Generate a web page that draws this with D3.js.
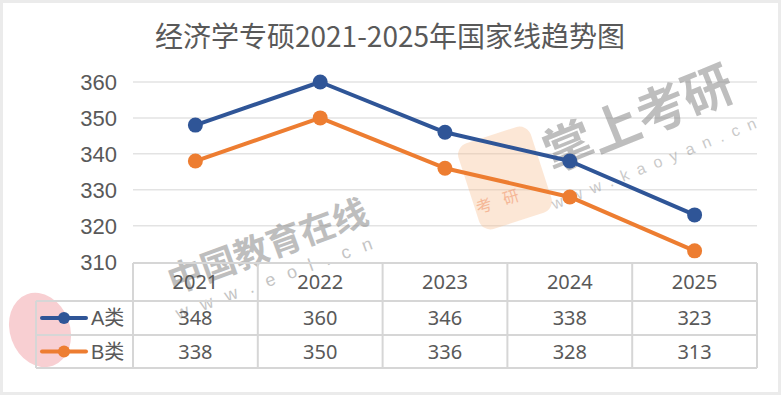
<!DOCTYPE html>
<html>
<head>
<meta charset="utf-8">
<script src="https://cdn.jsdelivr.net/npm/d3@7"></script>
<style>
  body { margin: 0; background: #fff; }
  svg { display: block; }
</style>
</head>
<body>
<div id="chart"></div>
<script>
var width = 781, height = 395;

// data
const years = ["2021", "2022", "2023", "2024", "2025"];
const seriesNames = ["A类", "B类"];
const scoresA = [348, 360, 346, 338, 323];
const scoresB = [338, 350, 336, 328, 313];
const yTicks = [310, 320, 330, 340, 350, 360];
const colors = ["#2f5597", "#ed7d31"];

const series = [
  { name: seriesNames[0], values: scoresA, color: colors[0] },
  { name: seriesNames[1], values: scoresB, color: colors[1] }
];

const svg = d3.select("#chart").append("svg")
    .attr("width", width)
    .attr("height", height);

// outer frame
svg.append("rect")
    .attr("x", 1.5).attr("y", 1.5)
    .attr("width", width - 3).attr("height", height - 3)
    .attr("fill", "#fff")
    .attr("stroke", "#ebebeb")
    .attr("stroke-width", 3);

// title
svg.append("text")
    .attr("x", 390).attr("y", 47)
    .attr("text-anchor", "middle")
    .attr("font-family", "'Noto Sans CJK SC', sans-serif")
    .attr("font-size", 28)
    .attr("fill", "#595959")
    .text("经济学专硕2021-2025年国家线趋势图");

const x = d3.scaleBand().domain(years).range([133, 757]);
const y = d3.scaleLinear().domain([310, 360]).range([261.6, 82]);
const cx = d => x(d) + x.bandwidth() / 2;

// gridlines
svg.append("g").selectAll("line")
    .data(yTicks.filter(t => t > 310))
    .join("line")
    .attr("x1", 133).attr("x2", 757)
    .attr("y1", d => y(d)).attr("y2", d => y(d))
    .attr("stroke", "#e3e3e3")
    .attr("stroke-width", 1.5);

// y axis labels
svg.append("g").selectAll("text")
    .data(yTicks)
    .join("text")
    .attr("x", 117)
    .attr("y", d => y(d) + 8)
    .attr("text-anchor", "end")
    .attr("font-family", "'Liberation Sans', Arial, sans-serif")
    .attr("font-size", 22)
    .attr("fill", "#595959")
    .text(d => d);

// watermarks (faint)
const wm = svg.append("g").attr("pointer-events", "none");
wm.append("rect")
    .attr("x", -38).attr("y", -45).attr("width", 76).attr("height", 90)
    .attr("rx", 12)
    .attr("transform", "translate(505,178) rotate(-18)")
    .attr("fill", "#f6b98a").attr("opacity", 0.35);
wm.append("text")
    .attr("transform", "translate(505,205) rotate(-18)")
    .attr("text-anchor", "middle")
    .attr("font-family", "'Noto Sans CJK SC', sans-serif")
    .attr("font-size", 16).attr("letter-spacing", 12)
    .attr("fill", "#f08a5a").attr("opacity", 0.5)
    .text("考研");
wm.append("ellipse")
    .attr("cx", 40).attr("cy", 330).attr("rx", 30).attr("ry", 38)
    .attr("transform", "rotate(-20,40,330)")
    .attr("fill", "#e8606a").attr("opacity", 0.3);
wm.append("text")
    .attr("transform", "translate(272,258) rotate(-20)")
    .attr("text-anchor", "middle")
    .attr("font-family", "'Noto Sans CJK SC', sans-serif")
    .attr("font-weight", "bold")
    .attr("font-size", 35)
    .attr("fill", "#8a8a8a").attr("opacity", 0.55)
    .text("中国教育在线");
wm.append("text")
    .attr("transform", "translate(282,282) rotate(-20)")
    .attr("text-anchor", "middle")
    .attr("font-family", "'Liberation Sans', Arial, sans-serif")
    .attr("font-size", 18).attr("letter-spacing", 13)
    .attr("fill", "#8a8a8a").attr("opacity", 0.5)
    .text("www.eol.cn");
wm.append("text")
    .attr("transform", "translate(645,135) rotate(-22)")
    .attr("text-anchor", "middle")
    .attr("font-family", "'Noto Sans CJK SC', sans-serif")
    .attr("font-weight", "bold")
    .attr("font-size", 50)
    .attr("fill", "#8a8a8a").attr("opacity", 0.55)
    .text("掌上考研");
wm.append("text")
    .attr("transform", "translate(660,167) rotate(-22)")
    .attr("text-anchor", "middle")
    .attr("font-family", "'Liberation Sans', Arial, sans-serif")
    .attr("font-size", 16).attr("letter-spacing", 9)
    .attr("fill", "#8a8a8a").attr("opacity", 0.45)
    .text("www.kaoyan.cn");

// lines + markers
const line = d3.line()
    .x((d, i) => cx(years[i]))
    .y(d => y(d));

const sg = svg.append("g").selectAll("g")
    .data(series)
    .join("g");

sg.append("path")
    .attr("d", d => line(d.values))
    .attr("fill", "none")
    .attr("stroke", d => d.color)
    .attr("stroke-width", 4)
    .attr("stroke-linejoin", "round");

sg.selectAll("circle")
    .data(d => d.values.map((v, i) => ({ v: v, i: i, color: d.color })))
    .join("circle")
    .attr("cx", d => cx(years[d.i]))
    .attr("cy", d => y(d.v))
    .attr("r", 7.5)
    .attr("fill", d => d.color);

// data table
const rowTop = 263, rowH = [38, 34, 33];
const rowY = [rowTop, rowTop + rowH[0], rowTop + rowH[0] + rowH[1], rowTop + rowH[0] + rowH[1] + rowH[2]];
const legendLeft = 36;
const tbl = svg.append("g")
    .attr("stroke", "#d6d6d6")
    .attr("stroke-width", 2);

// horizontal borders
tbl.append("line").attr("x1", 133).attr("x2", 757).attr("y1", rowY[0]).attr("y2", rowY[0]);
[1, 2, 3].forEach(function(r) {
  tbl.append("line").attr("x1", legendLeft).attr("x2", 757).attr("y1", rowY[r]).attr("y2", rowY[r]);
});
// vertical borders
tbl.append("line").attr("x1", legendLeft).attr("x2", legendLeft).attr("y1", rowY[1]).attr("y2", rowY[3]);
tbl.selectAll("line.v")
    .data(years.map(d => x(d)).concat([757]))
    .join("line")
    .attr("class", "v")
    .attr("x1", d => d).attr("x2", d => d)
    .attr("y1", rowY[0]).attr("y2", rowY[3]);

const cellFont = "'Noto Sans', 'Open Sans', sans-serif";

// header years
svg.append("g").selectAll("text")
    .data(years)
    .join("text")
    .attr("x", d => cx(d))
    .attr("y", (rowY[0] + rowY[1]) / 2 + 7)
    .attr("text-anchor", "middle")
    .attr("font-family", cellFont)
    .attr("font-size", 20)
    .attr("fill", "#595959")
    .text(d => d);

// value rows
series.forEach(function(s, r) {
  const mid = (rowY[r + 1] + rowY[r + 2]) / 2;
  svg.append("g").selectAll("text")
      .data(s.values)
      .join("text")
      .attr("x", (d, i) => cx(years[i]))
      .attr("y", mid + 7)
      .attr("text-anchor", "middle")
      .attr("font-family", cellFont)
      .attr("font-size", 20)
      .attr("fill", "#595959")
      .text(d => d);

  // legend key
  svg.append("line")
      .attr("x1", 42).attr("x2", 86)
      .attr("y1", mid).attr("y2", mid)
      .attr("stroke", s.color)
      .attr("stroke-width", 4)
      .attr("stroke-linecap", "round");
  svg.append("circle")
      .attr("cx", 64).attr("cy", mid).attr("r", 6)
      .attr("fill", s.color);
  svg.append("text")
      .attr("x", 91).attr("y", mid + 7)
      .attr("font-family", "'Liberation Sans', 'Noto Sans CJK SC', sans-serif")
      .attr("font-size", 20)
      .attr("fill", "#595959")
      .text(s.name);
});
</script>
</body>
</html>
